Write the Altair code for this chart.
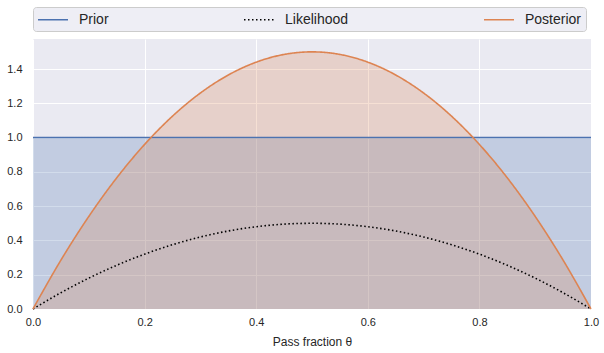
import altair as alt
import pandas as pd

theta = [0.0, 0.05, 0.1, 0.15, 0.2, 0.25, 0.3, 0.35, 0.4, 0.45, 0.5,
         0.55, 0.6, 0.65, 0.7, 0.75, 0.8, 0.85, 0.9, 0.95, 1.0]
prior = [1.0] * 21
likelihood = [0.0, 0.095, 0.18, 0.255, 0.32, 0.375, 0.42, 0.455, 0.48, 0.495, 0.5,
              0.495, 0.48, 0.455, 0.42, 0.375, 0.32, 0.255, 0.18, 0.095, 0.0]
posterior = [0.0, 0.285, 0.54, 0.765, 0.96, 1.125, 1.26, 1.365, 1.44, 1.485, 1.5,
             1.485, 1.44, 1.365, 1.26, 1.125, 0.96, 0.765, 0.54, 0.285, 0.0]

series_names = ["Prior", "Likelihood", "Posterior"]
colors = ["#4C72B0", "#000000", "#DD8452"]

rows = []
for name, vals in zip(series_names, [prior, likelihood, posterior]):
    for t, v in zip(theta, vals):
        rows.append({"series": name, "theta": t, "value": v})
df = pd.DataFrame(rows)

FONT = "Liberation Sans"
TXT = "#262626"

x = alt.X("theta:Q", scale=alt.Scale(domain=[0, 1], nice=False, zero=False),
          axis=alt.Axis(values=[0, 0.2, 0.4, 0.6, 0.8, 1.0], format=".1f",
                        labelFlush=False, labelPadding=7, titlePadding=9,
                        title="Pass fraction θ"))
y = alt.Y("value:Q", scale=alt.Scale(domain=[0, 1.575], nice=False),
          axis=alt.Axis(values=[0, 0.2, 0.4, 0.6, 0.8, 1.0, 1.2, 1.4], format=".1f",
                        labelFlush=False, labelPadding=11, title=None))

base = alt.Chart(df)

prior_area = base.transform_filter(alt.datum.series == "Prior").mark_area(
    color="#4C72B0", opacity=0.25).encode(x=x, y=y)
post_area = base.transform_filter(alt.datum.series == "Posterior").mark_area(
    color="#DD8452", opacity=0.25, interpolate="monotone").encode(x=x, y=y)

lines = base.mark_line(strokeWidth=1.6, interpolate="monotone").encode(
    x=x, y=y,
    color=alt.Color("series:N", scale=alt.Scale(domain=series_names, range=colors),
                    legend=alt.Legend(title=None, orient="none", legendX=0, legendY=-32,
                                      direction="horizontal", columns=3,
                                      columnPadding=132,
                                      symbolType="M-1,0H3", symbolSize=225,
                                      symbolStrokeWidth=1.5, labelFontSize=14,
                                      labelFont=FONT, labelColor=TXT, labelOffset=25,
                                      fillColor="#EEEEF5", strokeColor="#CCCCCC",
                                      padding=4, cornerRadius=3)),
    strokeDash=alt.StrokeDash("series:N",
                              scale=alt.Scale(domain=series_names,
                                              range=[[1, 0], [1.5, 2.5], [1, 0]]),
                              legend=None),
    order=alt.Order("theta:Q"),
)

chart = alt.layer(prior_area, post_area, lines).properties(
    width=558, height=270,
    background="#FFFFFF",
    padding={"left": 33, "top": 39, "right": 13, "bottom": 44},
    autosize=alt.AutoSizeParams(type="none"),
).configure_view(fill="#EAEAF2", stroke=None).configure_axis(
    grid=True, gridColor="#FFFFFF", gridWidth=1, gridOpacity=1, domain=False, ticks=False,
    labelFont=FONT, labelFontSize=11, labelColor=TXT,
    titleFont=FONT, titleFontSize=12, titleColor=TXT, titleFontWeight="normal",
)

chart.save("out.html", embed_options={"renderer": "svg", "actions": False})
